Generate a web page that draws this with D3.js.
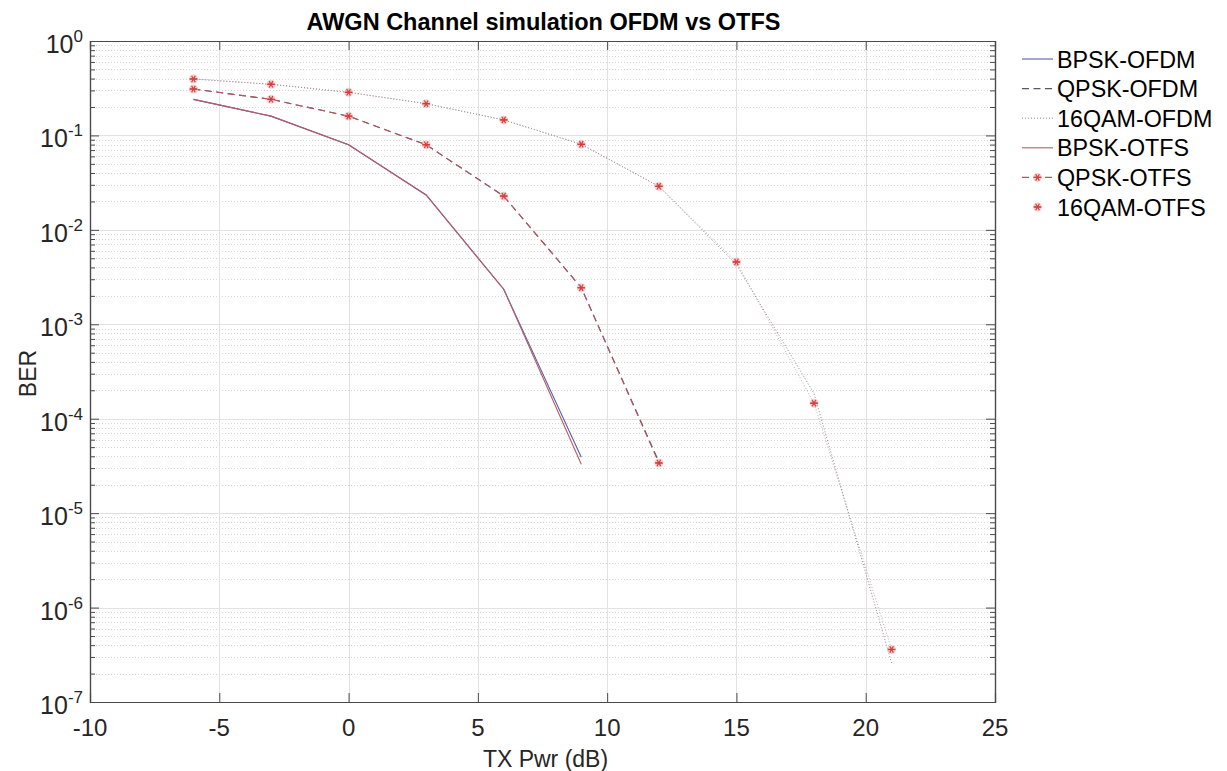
<!DOCTYPE html>
<html>
<head>
<meta charset="utf-8">
<script src="https://cdn.jsdelivr.net/npm/d3@7"></script>
<style>
  html, body { margin: 0; padding: 0; background: #fff; }
  svg { display: block; font-family: "Liberation Sans", Arial, Helvetica, sans-serif; }
</style>
</head>
<body>
<svg id="chart" width="1227" height="771"></svg>
<script>
// Transmit power sweep (dB)
const txPwr = [-6, -3, 0, 3, 6, 9, 12, 15, 18, 21];

// Bit error rates per modulation / waveform
const bpskOfdm  = [0.241, 0.160, 0.0797, 0.0234, 0.00235, 3.9e-5];
const qpskOfdm  = [0.310, 0.241, 0.160, 0.0797, 0.0228, 0.00244, 3.5e-5];
const qam16Ofdm = [0.396, 0.348, 0.286, 0.217, 0.146, 0.0805, 0.0289, 0.0043, 1.85e-4, 2.6e-7];
const bpskOtfs  = [0.241, 0.160, 0.0797, 0.0234, 0.00235, 3.3e-5];
const qpskOtfs  = [0.310, 0.241, 0.160, 0.0797, 0.0228, 0.00244, 3.4e-5];
const qam16Otfs = [0.396, 0.348, 0.286, 0.217, 0.146, 0.0805, 0.0289, 0.00457, 1.46e-4, 3.6e-7];

const seriesNames = ["BPSK-OFDM", "QPSK-OFDM", "16QAM-OFDM", "BPSK-OTFS", "QPSK-OTFS", "16QAM-OTFS"];

const xTicks = [-10, -5, 0, 5, 10, 15, 20, 25];
const yExponents = [0, -1, -2, -3, -4, -5, -6, -7];

const titleText = "AWGN Channel simulation OFDM vs OTFS";
const xLabelText = "TX Pwr (dB)";
const yLabelText = "BER";

// Line styles for each series
const styles = [
  { values: bpskOfdm,  stroke: "#5c5ca8", dash: null,    width: 1.1, marker: false, legendLine: true },
  { values: qpskOfdm,  stroke: "#585866", dash: "7,4.5", width: 1.1, marker: false, legendLine: true },
  { values: qam16Ofdm, stroke: "#8a8a8a", dash: "1,2",   width: 1.0, marker: false, legendLine: true },
  { values: bpskOtfs,  stroke: "#b85c64", dash: null,    width: 1.1, marker: false, legendLine: true },
  { values: qpskOtfs,  stroke: "#b8545c", dash: "7,4.5", width: 1.1, marker: true,  legendLine: true },
  { values: qam16Otfs, stroke: "#b89090", dash: "1,2",   width: 0.8, marker: true,  legendLine: false }
];

const svg = d3.select("#chart");
const L = 90, R = 995, T = 41, B = 702;

const x = d3.scaleLinear().domain([-10, 25]).range([L, R]);
const y = d3.scaleLog().domain([1e-7, 1]).range([B, T]);

const axisColor = "#4a4a4a";

// Minor grid (dotted) for each decade
const minorVals = [];
for (let e = -7; e < 0; e++) {
  for (let m = 2; m <= 9; m++) minorVals.push(m * Math.pow(10, e));
}
svg.append("g").selectAll("line").data(minorVals).join("line")
  .attr("x1", L).attr("x2", R)
  .attr("y1", d => Math.round(y(d)) + 0.5).attr("y2", d => Math.round(y(d)) + 0.5)
  .attr("stroke", "#d6d6d6").attr("stroke-width", 1).attr("stroke-dasharray", "1,2");

// Major grid (solid)
svg.append("g").selectAll("line").data(yExponents.slice(1, -1)).join("line")
  .attr("x1", L).attr("x2", R)
  .attr("y1", d => Math.round(y(Math.pow(10, d))) + 0.5).attr("y2", d => Math.round(y(Math.pow(10, d))) + 0.5)
  .attr("stroke", "#e2e2e2").attr("stroke-width", 1);
svg.append("g").selectAll("line").data(xTicks.slice(1, -1)).join("line")
  .attr("x1", d => Math.round(x(d)) + 0.5).attr("x2", d => Math.round(x(d)) + 0.5)
  .attr("y1", T).attr("y2", B)
  .attr("stroke", "#e2e2e2").attr("stroke-width", 1);

// Axes with inward ticks on all four sides
const tickLen = 9, minorLen = 5;
const xAxisBottom = d3.axisBottom(x).tickValues(xTicks).tickSize(-tickLen).tickFormat("");
const xAxisTop = d3.axisTop(x).tickValues(xTicks).tickSize(-tickLen).tickFormat("");
const yVals = yExponents.map(e => Math.pow(10, e));
const yAxisLeft = d3.axisLeft(y).tickValues(yVals).tickSize(-tickLen).tickFormat("");
const yAxisRight = d3.axisRight(y).tickValues(yVals).tickSize(-tickLen).tickFormat("");
const yMinorLeft = d3.axisLeft(y).tickValues(minorVals).tickSize(-minorLen).tickFormat("");
const yMinorRight = d3.axisRight(y).tickValues(minorVals).tickSize(-minorLen).tickFormat("");

function styleAxis(g) {
  g.selectAll("path").attr("stroke", axisColor).attr("stroke-width", 1.2);
  g.selectAll("line").attr("stroke", axisColor).attr("stroke-width", 1);
}
svg.append("g").attr("transform", `translate(0,${B})`).call(xAxisBottom).call(styleAxis);
svg.append("g").attr("transform", `translate(0,${T})`).call(xAxisTop).call(styleAxis);
svg.append("g").attr("transform", `translate(${L},0)`).call(yMinorLeft).call(styleAxis);
svg.append("g").attr("transform", `translate(${R},0)`).call(yMinorRight).call(styleAxis);
svg.append("g").attr("transform", `translate(${L},0)`).call(yAxisLeft).call(styleAxis);
svg.append("g").attr("transform", `translate(${R},0)`).call(yAxisRight).call(styleAxis);

// Tick labels
const tickFont = 24;
svg.append("g").selectAll("text").data(xTicks).join("text")
  .attr("x", d => x(d)).attr("y", B + 34)
  .attr("text-anchor", "middle").attr("font-size", tickFont).attr("fill", "#262626")
  .text(d => d);

const yLab = svg.append("g").selectAll("text").data(yExponents).join("text")
  .attr("y", d => y(Math.pow(10, d)) + 12)
  .attr("text-anchor", "start").attr("font-size", 25).attr("fill", "#262626");
yLab.append("tspan").text("10");
yLab.append("tspan").attr("dy", -11).attr("font-size", 17).text(d => d);
yLab.each(function() {
  const w = this.getComputedTextLength();
  d3.select(this).attr("x", 83 - w);
});

// Axis titles and chart title
svg.append("text").attr("x", (L + R) / 2 + 1).attr("y", 30)
  .attr("text-anchor", "middle").attr("font-size", 23.5).attr("font-weight", "bold").attr("fill", "#000")
  .text(titleText);
svg.append("text").attr("x", (L + R) / 2 + 3).attr("y", 767)
  .attr("text-anchor", "middle").attr("font-size", 23).attr("fill", "#262626")
  .text(xLabelText);
svg.append("text").attr("transform", `translate(36,${(T + B) / 2 + 2}) rotate(-90)`)
  .attr("text-anchor", "middle").attr("font-size", 23).attr("fill", "#262626")
  .text(yLabelText);

// Series lines and markers
const line = d3.line().x((d, i) => x(txPwr[i])).y(d => y(d));
const plot = svg.append("g");

function asterisk(g, cx, cy) {
  const r = 3.7;
  const m = g.append("g").attr("transform", `translate(${cx},${cy})`)
    .attr("stroke", "#d63c3c").attr("stroke-width", 1.2);
  m.append("circle").attr("r", 4.5).attr("fill", "#f2b0b0").attr("stroke", "none").attr("opacity", 0.6);
  [0, 60, 120].forEach(a => {
    const rad = a * Math.PI / 180;
    m.append("line").attr("x1", -r * Math.cos(rad)).attr("y1", -r * Math.sin(rad))
      .attr("x2", r * Math.cos(rad)).attr("y2", r * Math.sin(rad));
  });
  m.append("line").attr("x1", -r).attr("x2", r).attr("y1", 0).attr("y2", 0);
}

styles.forEach(s => {
  plot.append("path").datum(s.values).attr("d", line)
    .attr("fill", "none").attr("stroke", s.stroke).attr("stroke-width", s.width)
    .attr("stroke-dasharray", s.dash);
});
styles.forEach(s => {
  if (!s.marker) return;
  s.values.forEach((v, i) => asterisk(plot, x(txPwr[i]), y(v)));
});

// Legend
const leg = svg.append("g");
seriesNames.forEach((name, i) => {
  const s = styles[i];
  const cy = 59 + i * 29.6;
  if (s.legendLine) {
    leg.append("line").attr("x1", 1022).attr("x2", 1053).attr("y1", cy).attr("y2", cy)
      .attr("stroke", s.stroke).attr("stroke-width", s.width).attr("stroke-dasharray", s.dash);
  }
  if (s.marker) asterisk(leg, 1037.5, cy);
  leg.append("text").attr("x", 1057).attr("y", cy + 8.5)
    .attr("font-size", 23.3).attr("fill", "#000").text(name);
});
</script>
</body>
</html>
